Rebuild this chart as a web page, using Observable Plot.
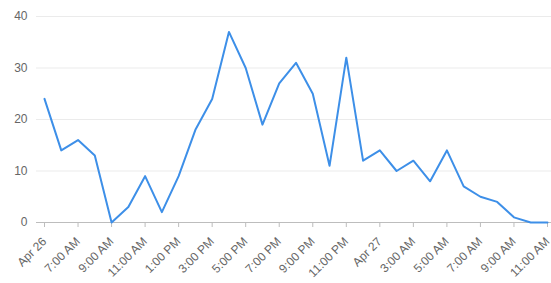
<!DOCTYPE html>
<html>
<head>
<meta charset="utf-8">
<script src="https://cdn.jsdelivr.net/npm/d3@7"></script>
<script src="https://cdn.jsdelivr.net/npm/@observablehq/plot@0.6"></script>
<style>
  html, body { margin: 0; padding: 0; background: #fff; }
  #chart svg { display: block; }
</style>
</head>
<body>
<div id="chart"></div>
<script>
// Hourly timestamps from Apr 26 5:00 AM to Apr 27 11:00 AM
const startTime = new Date(Date.UTC(2024, 3, 26, 5));
const endTime = new Date(Date.UTC(2024, 3, 27, 12));
const times = d3.utcHour.range(startTime, endTime);

const counts = [24, 14, 16, 13, 0, 3, 9, 2, 9, 18, 24, 37, 30, 19, 27, 31, 25, 11, 32, 12, 14, 10, 12, 8, 14, 7, 5, 4, 1, 0, 0];

const tickLabels = ["Apr 26", "7:00 AM", "9:00 AM", "11:00 AM", "1:00 PM", "3:00 PM", "5:00 PM", "7:00 PM", "9:00 PM", "11:00 PM", "Apr 27", "3:00 AM", "5:00 AM", "7:00 AM", "9:00 AM", "11:00 AM"];
const yTicks = [0, 10, 20, 30, 40];

const data = times.map((t, i) => ({time: t, count: counts[i]}));
const tickDates = times.filter((t, i) => i % 2 === 0);

const chart = Plot.plot({
  width: 551,
  height: 283,
  marginLeft: 36,
  marginRight: 0,
  marginTop: 16,
  marginBottom: 61,
  insetLeft: 8,
  insetRight: 4,
  style: {fontFamily: "'Liberation Sans', Arial, sans-serif", fontSize: "12px", background: "#fff"},
  x: {type: "utc", domain: [startTime, times[times.length - 1]]},
  y: {domain: [0, 40]},
  marks: [
    Plot.ruleY(yTicks.filter(d => d > 0), {stroke: "#ebebeb", strokeWidth: 1}),
    Plot.ruleY([0], {stroke: "#bdbdbd", strokeWidth: 1}),
    Plot.axisY({ticks: yTicks, tickSize: 0, tickPadding: 9, color: "#666", label: null}),
    Plot.axisX({
      ticks: tickDates,
      tickFormat: (d, i) => tickLabels[tickDates.findIndex(t => +t === +d)],
      tickRotate: -45,
      tickSize: 5,
      tickPadding: 12,
      color: "#666",
      stroke: "#bdbdbd",
      label: null
    }),
    Plot.line(data, {x: "time", y: "count", stroke: "#3d8fe8", strokeWidth: 2})
  ]
});
document.getElementById("chart").appendChild(chart);
</script>
</body>
</html>
